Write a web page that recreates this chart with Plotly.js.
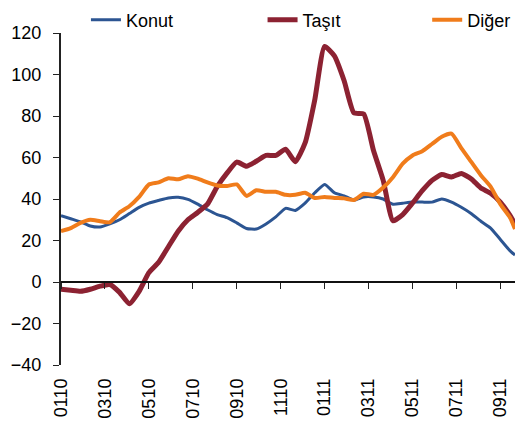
<!DOCTYPE html>
<html>
<head>
<meta charset="utf-8">
<script src="https://cdn.plot.ly/plotly-3.0.1.min.js"></script>
<style>html,body{margin:0;padding:0;background:#fff;}#chart{width:518px;height:426px;}</style>
</head>
<body>
<div id="chart"></div>
<script>
var dates = ["2010-01-01","2010-01-15","2010-01-29","2010-02-12","2010-02-26","2010-03-12","2010-03-26","2010-04-09","2010-04-23","2010-05-07","2010-05-21","2010-06-04","2010-06-18","2010-07-02","2010-07-16","2010-07-30","2010-08-13","2010-08-27","2010-09-10","2010-09-24","2010-10-08","2010-10-22","2010-11-05","2010-11-19","2010-12-03","2010-12-17","2010-12-31","2011-01-14","2011-01-28","2011-02-11","2011-02-25","2011-03-11","2011-03-25","2011-04-08","2011-04-22","2011-05-06","2011-05-20","2011-06-03","2011-06-17","2011-07-01","2011-07-15","2011-07-29","2011-08-12","2011-08-26","2011-09-09","2011-09-23","2011-10-07","2011-10-14"];

var konut = [32,30.5,29,27,26.5,28,30,33,36,38,39.3,40.5,40.8,39.8,37.5,34.8,32.5,31,28.5,25.8,25.5,28,31.4,35.5,34.5,38,43,47,43,41.5,39.5,41,41,40,37.5,38,38.5,38.5,38.5,40,38.5,36,33,29.3,26,20.5,15,13];

var tasit = [-3.5,-4,-4.5,-3.5,-2,-1.2,-5,-10.5,-4.5,4.5,9.5,17,24.5,30,33.5,37.5,46,52.5,57.8,55.8,58.2,61,61,64,58,67,88,113.5,109,97,81.5,81,63.5,49,29.5,32.5,38,44,49,51.8,50.6,52.3,49.8,45.3,42.8,38.5,32,28];

var diger = [24.5,26,28.5,30,29.3,28.8,33.5,36.5,41,47,48,50,49.5,51,49.8,48,46.5,46.3,47,41.5,44.2,43.5,43.5,42,42,43,40.5,41,40.5,40.3,39.5,42.5,42,45.5,50.5,57,61,63,66.5,70,71.5,64.5,58,51.5,46,37.5,31,25.5];

var tickDates = ["2010-01-01","2010-03-05","2010-05-07","2010-07-09","2010-09-10","2010-11-12","2011-01-14","2011-03-18","2011-05-20","2011-07-22","2011-09-23"];
var tickLabels = ["0110","0310","0510","0710","0910","1110","0111","0311","0511","0711","0911"];
var yTicks = [-40,-20,0,20,40,60,80,100,120];

var seriesNames = ["Konut","Taşıt","Diğer"];
var colors = ["#2C5592","#8C2232","#F07C1B"];
var widths = [3,5,4];
var values = [konut, tasit, diger];
var legendIds = ["legend","legend2","legend3"];

var font = "Liberation Sans, Arial, sans-serif";
var traces = values.map(function(v,i){
  return {x: dates, y: v, type:"scatter", mode:"lines", name: seriesNames[i], legend: legendIds[i],
    line:{color: colors[i], width: widths[i], shape:"spline", smoothing:0.5}, hoverinfo:"skip"};
});
traces.push({x:[dates[0]], y:[null], xaxis:"x2", type:"scatter", mode:"lines", showlegend:false, hoverinfo:"skip"});

function leg(px){
  return {orientation:"h", x:(px-61)/455, xanchor:"left", y:1.039, yanchor:"middle",
    font:{family:font, size:18, color:"#000"}, bgcolor:"rgba(0,0,0,0)", borderwidth:0};
}

var layout = {
  width:518, height:426,
  margin:{l:61, r:2, t:30, b:61},
  paper_bgcolor:"#fff", plot_bgcolor:"#fff",
  font:{family:font, size:18, color:"#000"},
  showlegend:true,
  legend: leg(86), legend2: leg(263), legend3: leg(428),
  xaxis:{type:"date", range:["2010-01-01","2011-10-14"], tickmode:"array", tickvals:tickDates, ticktext:tickLabels,
    tickangle:-90, ticks:"", showline:false, showgrid:false, zeroline:false, ticklabelstandoff:9,
    tickfont:{family:font, size:18, color:"#000"}},
  xaxis2:{type:"date", matches:"x", overlaying:"x", anchor:"free", position:0.25, side:"bottom",
    tickmode:"array", tickvals:tickDates, showticklabels:false, ticks:"outside", ticklen:6, tickcolor:"#222", tickwidth:1,
    showline:true, linecolor:"#111", linewidth:2, showgrid:false, zeroline:false},
  yaxis:{range:[-40,120], tickmode:"array", tickvals:yTicks, ticks:"outside", ticklen:6, tickcolor:"#222",
    showline:true, linecolor:"#222", linewidth:2, showgrid:false, zeroline:false, ticklabelstandoff:8,
    tickfont:{family:font, size:18, color:"#000"}}
};
Plotly.newPlot("chart", traces, layout, {staticPlot:true, displayModeBar:false});
</script>
</body>
</html>
